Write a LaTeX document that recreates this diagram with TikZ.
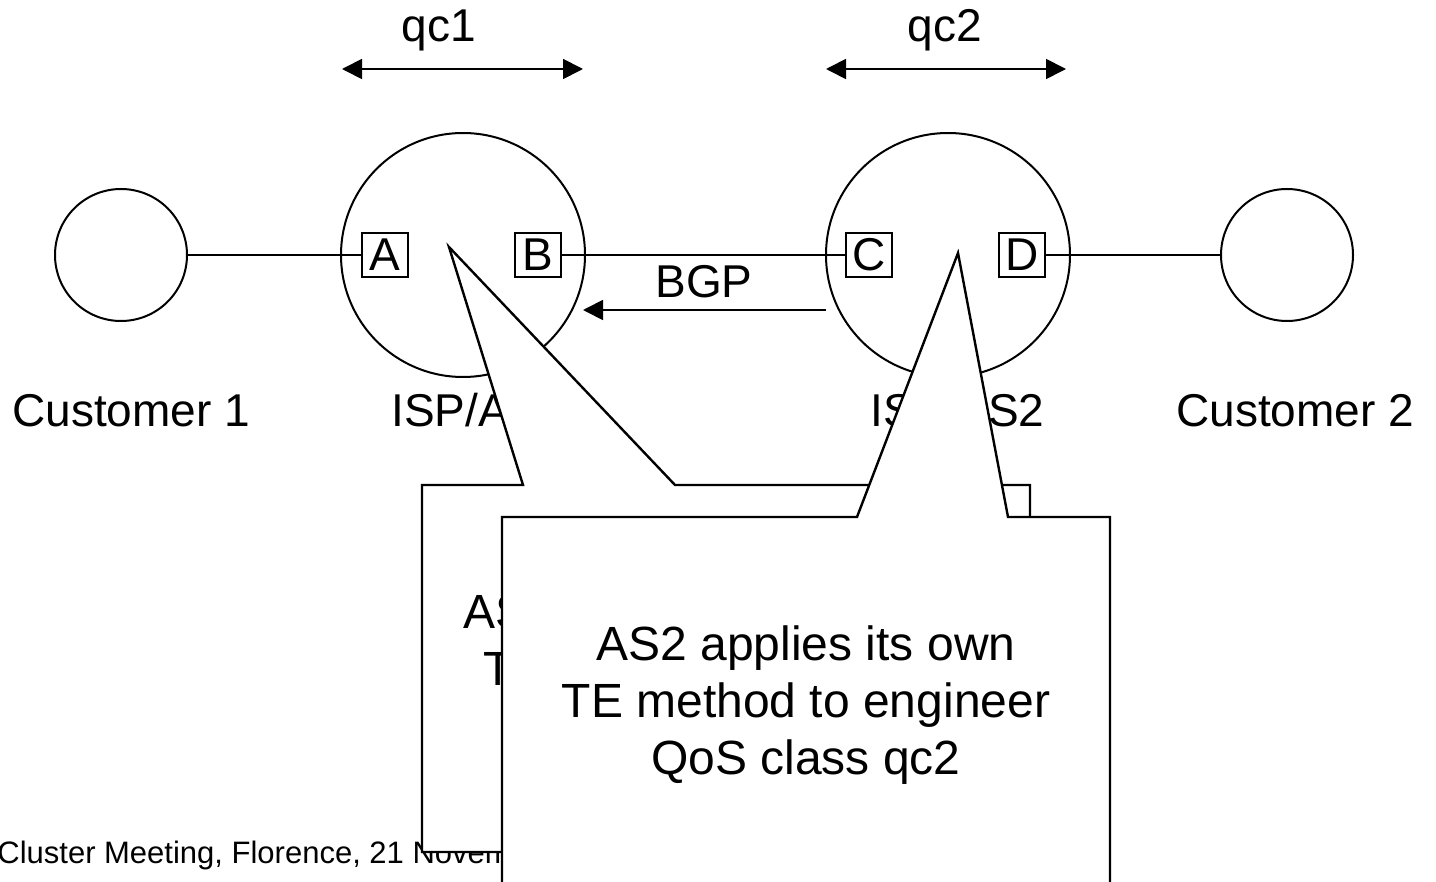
\documentclass[tikz,border=0pt]{standalone}
\usepackage{fontspec}
\setmainfont{Liberation Sans}
\usetikzlibrary{arrows.meta}

\tikzset{
  big/.style={font=\fontsize{23}{28.5}\selectfont},
  note/.style={font=\fontsize{24}{28.3}\selectfont},
  small/.style={font=\fontsize{15.5}{18}\selectfont},
  router/.style={draw, circle, line width=1pt, inner sep=0pt, minimum size=122pt},
  site/.style={draw, circle, line width=1pt, inner sep=0pt, minimum size=66pt},
  port/.style={draw, fill=white, line width=0.7pt, inner sep=0pt,
    minimum width=23pt, minimum height=22pt},
  label/.style={inner sep=0pt},
  link/.style={line width=0.9pt},
  span/.style={link, {Triangle[length=10pt,width=10pt]}-{Triangle[length=10pt,width=10pt]}},
  balloon/.style={draw, fill=white, line width=1.2pt, line join=miter},
}

\begin{document}
\begin{tikzpicture}[x=0.5pt,y=-0.5pt,big]
  \useasboundingbox (0,0) rectangle (1436,882);

  % domains
  \node[site] (cust1) at (121,255) {};
  \node[router] (isp1) at (463,255) {};
  \node[router] (isp2) at (948,255) {};
  \node[site] (cust2) at (1287,255) {};

  % border routers
  \node[port] (ifA) at (385,255) {A};
  \node[port] (ifB) at (538,255) {B};
  \node[port] (ifC) at (869,255) {C};
  \node[port] (ifD) at (1022,255) {D};

  \draw[link] (cust1) -- (ifA);
  \draw[link] (ifB) -- (ifC);
  \draw[link] (ifD) -- (cust2);

  \node[label, anchor=base west] (lcust1) at (12,427) {Customer 1};
  \node[label, anchor=base west] (lisp1) at (391,427) {ISP/AS1};
  \node[label, anchor=base west] (lisp2) at (870,427) {ISP/AS2};
  \node[label, anchor=base west] (lcust2) at (1176,427) {Customer 2};

  % QoS class spans
  \coordinate (qc1w) at (342,69);
  \coordinate (qc1e) at (583,69);
  \draw[span] (qc1w) -- (qc1e);
  \node[label, anchor=base] (qc1) at (439,42) {qc1};
  \coordinate (qc2w) at (826,69);
  \coordinate (qc2e) at (1066,69);
  \draw[span] (qc2w) -- (qc2e);
  \node[label, anchor=base] (qc2) at (945,42) {qc2};

  % BGP advertisement
  \coordinate (bgpe) at (826,310);
  \coordinate (bgpw) at (583,310);
  \draw[link, -{Triangle[length=10pt,width=10pt]}] (bgpe) -- (bgpw);
  \node[label, anchor=base] (bgp) at (704,298) {BGP};

  \node[label, small, anchor=base west] (foot) at (-3,863)
    {Cluster Meeting, Florence, 21 November 2002};

  % callouts
  \coordinate (tip1) at (449,247);
  \draw[balloon] (422,485) -- (523,485) -- (tip1) -- (675,485) -- (1030,485)
    -- (1030,852) -- (422,852) -- cycle;
  \node[label, note, anchor=base west] (as1a) at (463,628) {AS1 applies its own};
  \node[label, note, anchor=base west] (as1b) at (483,685) {TE method to engineer};

  \coordinate (tip2) at (958,253);
  \draw[balloon] (502,517) -- (857,517) -- (tip2) -- (1008,517) -- (1110,517)
    -- (1110,886) -- (502,886) -- cycle;
  \node[note, align=center] (as2) at (806,705)
    {AS2 applies its own\\TE method to engineer\\QoS class qc2};
\end{tikzpicture}
\end{document}
